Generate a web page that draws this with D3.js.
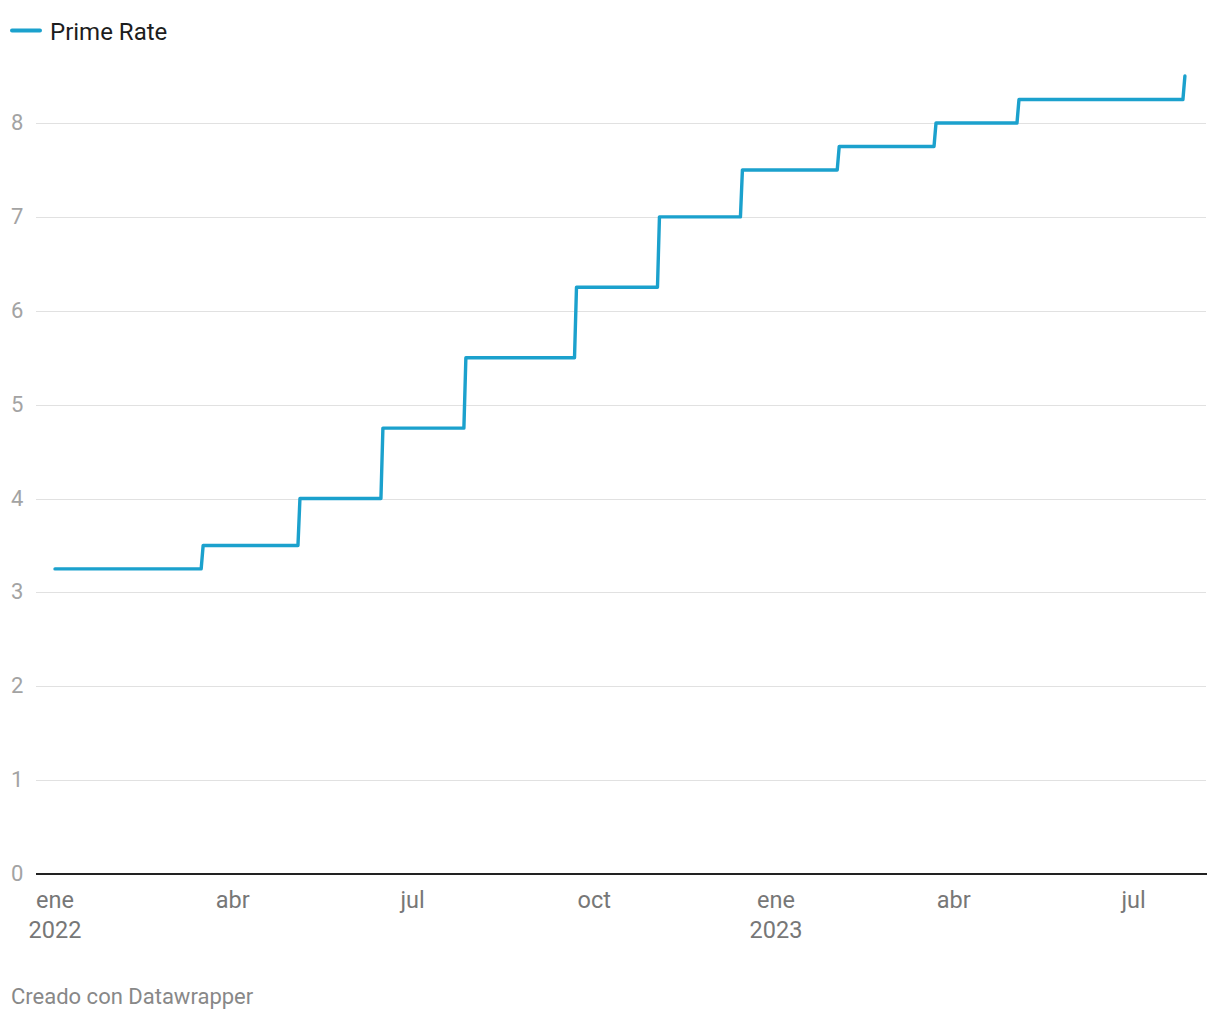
<!DOCTYPE html>
<html>
<head>
<meta charset="utf-8">
<script src="https://cdn.jsdelivr.net/npm/d3@7"></script>
<style>
  html, body { margin: 0; padding: 0; background: #fff; }
  svg { display: block; font-family: Roboto, "Noto Sans", sans-serif; }
</style>
</head>
<body>
<svg id="chart" width="1220" height="1020"></svg>
<script>
// Data: step points (day before change, day of change)
const seriesName = "Prime Rate";
const dates = [
  "2022-01-01", "2022-03-16", "2022-03-17", "2022-05-04", "2022-05-05",
  "2022-06-15", "2022-06-16", "2022-07-27", "2022-07-28", "2022-09-21",
  "2022-09-22", "2022-11-02", "2022-11-03", "2022-12-14", "2022-12-15",
  "2023-02-01", "2023-02-02", "2023-03-22", "2023-03-23", "2023-05-03",
  "2023-05-04", "2023-07-26", "2023-07-27"
];
const rates = [
  3.25, 3.25, 3.5, 3.5, 4.0,
  4.0, 4.75, 4.75, 5.5, 5.5,
  6.25, 6.25, 7.0, 7.0, 7.5,
  7.5, 7.75, 7.75, 8.0, 8.0,
  8.25, 8.25, 8.5
];
const yTicks = [0, 1, 2, 3, 4, 5, 6, 7, 8];
const xTickDates = ["2022-01-01", "2022-04-01", "2022-07-01", "2022-10-01", "2023-01-01", "2023-04-01", "2023-07-01"];
const monthNames = ["ene","feb","mar","abr","may","jun","jul","ago","sep","oct","nov","dic"];
const footer = "Creado con Datawrapper";

const parse = d3.utcParse("%Y-%m-%d");
const data = dates.map((d, i) => ({ date: parse(d), value: rates[i] }));

const svg = d3.select("#chart");
const color = "#1ba1cd";

const x = d3.scaleUtc()
  .domain([parse("2022-01-01"), parse("2023-01-01")])
  .range([55, 776]);
const y = d3.scaleLinear().domain([0, 8]).range([874, 123]);

const gridLeft = 36, gridRight = 1206;

// Grid lines
svg.append("g").selectAll("line")
  .data(yTicks.filter(t => t !== 0))
  .join("line")
  .attr("x1", gridLeft).attr("x2", gridRight)
  .attr("y1", d => Math.round(y(d)) + 0.5).attr("y2", d => Math.round(y(d)) + 0.5)
  .attr("stroke", "#e1e1e1").attr("stroke-width", 1);

// Y labels
svg.append("g").selectAll("text")
  .data(yTicks)
  .join("text")
  .attr("x", 11).attr("y", d => y(d) + 7)
  .attr("font-size", 22)
  .attr("fill", "#a3a3a3")
  .text(d => d);

// Baseline
svg.append("line")
  .attr("x1", gridLeft).attr("x2", gridRight + 1)
  .attr("y1", 874).attr("y2", 874)
  .attr("stroke", "#222").attr("stroke-width", 2);

// X axis labels
const xg = svg.append("g").selectAll("g")
  .data(xTickDates.map(parse))
  .join("g")
  .attr("transform", d => `translate(${x(d)},0)`);
xg.append("text")
  .attr("y", 908)
  .attr("text-anchor", "middle")
  .attr("font-size", 23.5)
  .attr("fill", "#777")
  .text(d => monthNames[d.getUTCMonth()]);
xg.filter(d => d.getUTCMonth() === 0).append("text")
  .attr("y", 938)
  .attr("text-anchor", "middle")
  .attr("font-size", 23.5)
  .attr("fill", "#777")
  .text(d => d.getUTCFullYear());

// Line
const line = d3.line()
  .x(d => x(d.date))
  .y(d => y(d.value));
svg.append("path")
  .datum(data)
  .attr("d", line)
  .attr("fill", "none")
  .attr("stroke", color)
  .attr("stroke-width", 3.4)
  .attr("stroke-linejoin", "round")
  .attr("stroke-linecap", "round");

// Legend
svg.append("line")
  .attr("x1", 12).attr("x2", 40)
  .attr("y1", 30.5).attr("y2", 30.5)
  .attr("stroke", color).attr("stroke-width", 4)
  .attr("stroke-linecap", "round");
svg.append("text")
  .attr("x", 50).attr("y", 40)
  .attr("font-size", 24)
  .attr("fill", "#1d1d1d")
  .text(seriesName);

// Footer
svg.append("text")
  .attr("x", 11).attr("y", 1004)
  .attr("font-size", 22)
  .attr("fill", "#888")
  .text(footer);
</script>
</body>
</html>
